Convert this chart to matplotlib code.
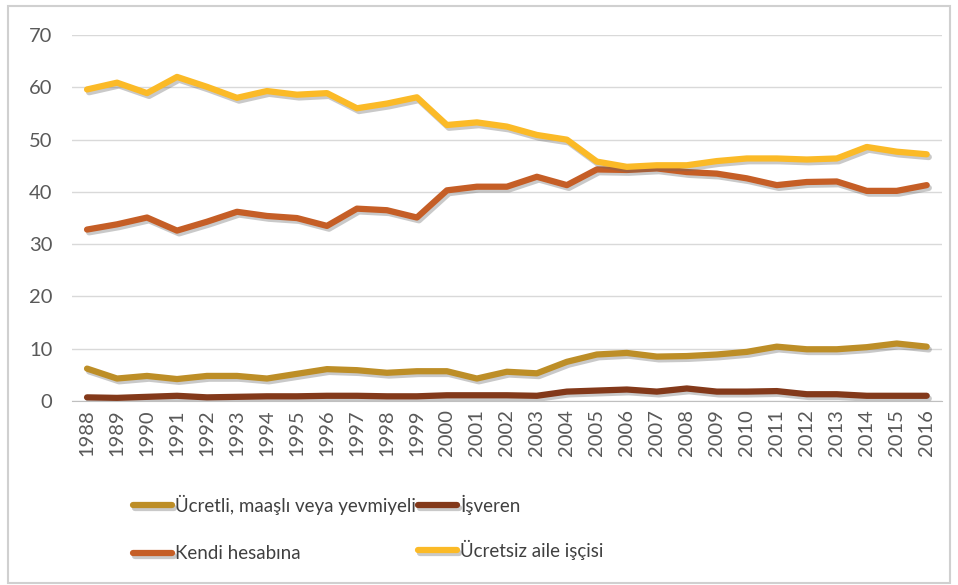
import matplotlib.pyplot as plt
import matplotlib.patheffects as pe
from matplotlib.patches import Rectangle

years = [str(y) for y in range(1988, 2017)]

ucretli = [6.2, 4.3, 4.8, 4.2, 4.8, 4.8, 4.3, 5.2, 6.1, 5.9, 5.4, 5.7, 5.7, 4.3,
           5.6, 5.3, 7.5, 8.9, 9.2, 8.5, 8.6, 8.9, 9.4, 10.4, 9.9, 9.9, 10.3, 11.0, 10.4]
isveren = [0.7, 0.6, 0.8, 1.0, 0.7, 0.8, 0.9, 0.9, 1.0, 1.0, 0.9, 0.9, 1.1, 1.1,
           1.1, 1.0, 1.8, 2.0, 2.2, 1.8, 2.4, 1.8, 1.8, 1.9, 1.3, 1.3, 1.0, 1.0, 1.0]
kendi = [32.8, 33.8, 35.1, 32.6, 34.3, 36.2, 35.4, 35.0, 33.5, 36.8, 36.5, 35.1, 40.3, 41.0,
         41.0, 42.9, 41.3, 44.3, 44.2, 44.5, 43.8, 43.5, 42.6, 41.3, 41.9, 42.0, 40.2, 40.2, 41.3]
ucretsiz = [59.6, 60.9, 58.9, 62.0, 60.1, 58.0, 59.3, 58.6, 58.9, 56.0, 56.9, 58.1, 52.8, 53.3,
            52.5, 50.9, 50.0, 45.8, 44.8, 45.1, 45.1, 45.9, 46.4, 46.4, 46.2, 46.4, 48.6, 47.7, 47.2]

labels = ["Ücretli, maaşlı veya yevmiyeli", "İşveren", "Kendi hesabına", "Ücretsiz aile işçisi"]
colors = ["#BD8E27", "#83391A", "#C55E26", "#FBBA27"]

plt.rcParams['font.family'] = ['Lato', 'DejaVu Sans']

fig = plt.figure(figsize=(9.58, 5.85), dpi=100)
ax = fig.add_axes([0.0752, 0.3145, 0.9078, 0.6255])

shadow = [pe.SimpleLineShadow(offset=(1.5, -2.0), shadow_color='#666666', alpha=0.35),
          pe.Normal()]
x = list(range(len(years)))
lines = []
for series, lab, col in zip([ucretli, isveren, kendi, ucretsiz], labels, colors):
    ln, = ax.plot(x, series, color=col, lw=4.5, label=lab, solid_capstyle='round',
                  path_effects=shadow)
    lines.append(ln)

ax.set_xlim(-0.5, len(years) - 0.5)
ax.set_ylim(0, 70)
ax.set_yticks(range(0, 71, 10))
ax.set_xticks(x)
ax.set_xticklabels(years, rotation=90)
ax.tick_params(length=0, labelsize=14.5, labelcolor='#595959')
ax.tick_params(axis='y', pad=14)
ax.tick_params(axis='x', pad=6)
ax.grid(axis='y', color='#D9D9D9', lw=1)
ax.set_axisbelow(True)
for s in ['top', 'right', 'left']:
    ax.spines[s].set_visible(False)
ax.spines['bottom'].set_color('#BFBFBF')

# one small legend per entry so the 2x2 grid lines up exactly
spots = [(0.131, 0.137), (0.4285, 0.137), (0.131, 0.053), (0.4285, 0.060)]
for ln, (lx, ly) in zip(lines, spots):
    fig.legend(handles=[ln], loc='center left', bbox_to_anchor=(lx, ly),
               frameon=False, fontsize=13.5, handlelength=2.1, handletextpad=0.15,
               borderaxespad=0, labelcolor='#404040')

fig.patches.append(Rectangle((0.008, 0.004), 0.984, 0.985, transform=fig.transFigure,
                             fill=False, edgecolor='#D0D0D0', lw=1.5))

fig.savefig('out.png', dpi=100)
